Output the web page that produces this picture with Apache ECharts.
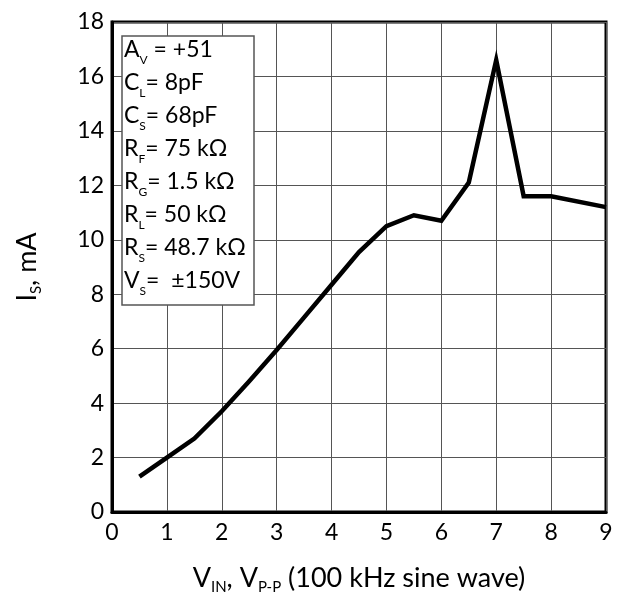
<!DOCTYPE html>
<html>
<head>
<meta charset="utf-8">
<script src="https://cdn.jsdelivr.net/npm/echarts@6/dist/echarts.min.js"></script>
<style>html,body{margin:0;padding:0;background:#fff;}#c{width:619px;height:601px;}</style>
</head>
<body>
<div id="c"></div>
<script>
const vin = [0.5, 1, 1.5, 2, 2.5, 3, 3.5, 4, 4.5, 5, 5.5, 6, 6.5, 7, 7.5, 8, 9];
const isMa = [1.3, 2.0, 2.7, 3.7, 4.8, 5.95, 7.15, 8.35, 9.55, 10.5, 10.9, 10.7, 12.1, 16.6, 11.6, 11.6, 11.2];
const paramMain = ['A', 'C', 'C', 'R', 'R', 'R', 'R', 'V'];
const paramSub = ['V', 'L', 'S', 'F', 'G', 'L', 'S', 'S'];
const paramValue = [' = +51', '= 8pF', '= 68pF', '= 75 k\u03A9', '= 1.5 k\u03A9', '= 50 k\u03A9', '= 48.7 k\u03A9', '=  \u00B1150V'];

const FONT = 'Lato';
const chart = echarts.init(document.getElementById('c'));

const legendText = paramMain.map((m, i) => '{m|' + m + '}{s|' + paramSub[i] + '}{m|' + paramValue[i] + '}').join('\n');

const subRich = (main) => ({
  m: { fontFamily: FONT, fontSize: main, color: '#000', lineHeight: main + 6, verticalAlign: 'middle' },
  s: { fontFamily: FONT, fontSize: Math.round(main * 0.55), color: '#000', lineHeight: Math.round(main * 0.55), verticalAlign: 'bottom' }
});

chart.setOption({
  animation: false,
  grid: { left: 112, top: 22, right: 13, bottom: 89, show: true, borderColor: '#000', borderWidth: 3, backgroundColor: 'transparent' },
  xAxis: {
    type: 'value', min: 0, max: 9, interval: 1,
    name: '{m|V}{s|IN}{m|, V}{s|P-P}{m| (100 kHz sine wave)}',
    nameLocation: 'middle', nameGap: 50,
    nameTextStyle: { rich: subRich(27) },
    axisLine: { lineStyle: { color: '#000', width: 3 } },
    axisTick: { show: false },
    axisLabel: { fontFamily: FONT, fontSize: 23, color: '#000', margin: 9 },
    splitLine: { lineStyle: { color: '#555', width: 1 } }
  },
  yAxis: {
    type: 'value', min: 0, max: 18, interval: 2,
    name: '{m|I}{s|S}{m|, mA}',
    nameLocation: 'middle', nameGap: 68, nameRotate: 90,
    nameTextStyle: { rich: subRich(27) },
    axisLine: { show: true, lineStyle: { color: '#000', width: 3 } },
    axisTick: { show: false },
    axisLabel: { fontFamily: FONT, fontSize: 23, color: '#000', margin: 8 },
    splitLine: { lineStyle: { color: '#555', width: 1 } }
  },
  series: [{
    type: 'line',
    data: vin.map((x, i) => [x, isMa[i]]),
    showSymbol: false,
    lineStyle: { color: '#000', width: 4.5, join: 'miter' },
    z: 5
  }],
  graphic: [
    { type: 'rect', z: 100, shape: { x: 122, y: 36, width: 132, height: 269 }, style: { fill: '#fff', stroke: '#555', lineWidth: 1.5 } },
    { type: 'text', z: 101, left: 124, top: 38, style: { text: legendText, rich: {
      m: { fontFamily: FONT, fontSize: 23, color: '#000', lineHeight: 33, verticalAlign: 'middle' },
      s: { fontFamily: FONT, fontSize: 12, color: '#000', lineHeight: 12, verticalAlign: 'bottom' }
    } } }
  ]
});
</script>
</body>
</html>
